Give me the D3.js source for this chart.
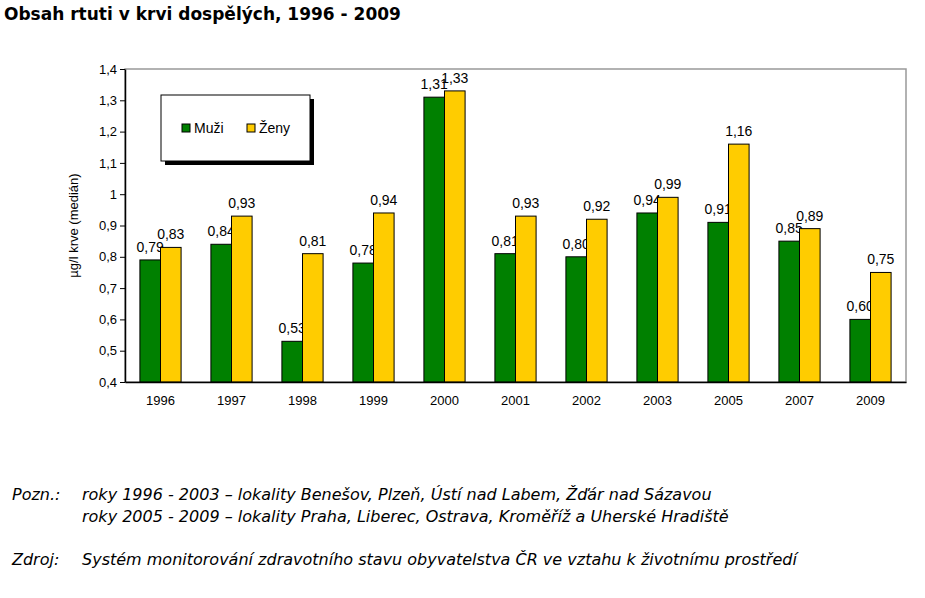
<!DOCTYPE html>
<html><head><meta charset="utf-8">
<script src="https://cdn.jsdelivr.net/npm/d3@7"></script>
<style>body{margin:0;background:#fff}</style>
</head><body>
<svg id="c" width="925" height="598"></svg>
<script>
const years = ['1996','1997','1998','1999','2000','2001','2002','2003','2005','2007','2009'];
const muzi = [0.79,0.84,0.53,0.78,1.31,0.81,0.80,0.94,0.91,0.85,0.60];
const zeny = [0.83,0.93,0.81,0.94,1.33,0.93,0.92,0.99,1.16,0.89,0.75];
const yTicks = [0.4,0.5,0.6,0.7,0.8,0.9,1.0,1.1,1.2,1.3,1.4];

const svg = d3.select('#c');
const fmt = d => d3.format('.2f')(d).replace('.', ',');
const fmtT = d => (d === 1 ? '1' : d3.format('.1f')(d).replace('.', ','));

svg.append('text').attr('x', 4).attr('y', 20)
  .style('font', 'bold 17px Verdana, "DejaVu Sans", sans-serif').text('Obsah rtuti v krvi dospělých, 1996 - 2009');

const pL = 125, pR = 906, pT = 69, pB = 382;
const x = d3.scaleBand().domain(years).range([pL, pR]).paddingInner(0.42).paddingOuter(0.21);
const y = d3.scaleLinear().domain([0.4, 1.4]).range([pB, pT]);

// plot frame
svg.append('rect').attr('x', pL).attr('y', pT).attr('width', pR - pL).attr('height', pB - pT)
  .attr('fill', '#fff').attr('stroke', '#999').attr('stroke-width', 1.5);

const bw = x.bandwidth() / 2;
const g = svg.append('g');
years.forEach((yr, i) => {
  [[muzi[i], '#008000', 0], [zeny[i], '#ffcc00', 1]].forEach(([v, c, k]) => {
    g.append('rect').attr('x', x(yr) + k * bw).attr('y', y(v)).attr('width', bw).attr('height', y(0.4) - y(v))
      .attr('fill', c).attr('stroke', '#000').attr('stroke-width', 1);
    g.append('text').attr('x', x(yr) + k * bw + bw / 2).attr('y', y(v) - 8).attr('text-anchor', 'middle')
      .style('font', '14px Arial, "Liberation Sans", sans-serif').text(fmt(v));
  });
});

svg.append('g').attr('transform', `translate(${pL},0)`)
  .call(d3.axisLeft(y).tickValues(yTicks).tickFormat(fmtT).tickSize(5).tickSizeOuter(0))
  .call(a => a.selectAll('text').style('font', '13px Arial, "Liberation Sans", sans-serif').attr('fill', '#000'))
  .call(a => a.select('.domain').attr('stroke', '#000').attr('stroke-width', 1.5));

svg.append('g').attr('transform', `translate(0,${pB})`)
  .call(d3.axisBottom(x).tickSize(0).tickPadding(14))
  .call(a => a.selectAll('text').style('font', '13px Arial, "Liberation Sans", sans-serif').attr('fill', '#000'))
  .call(a => a.select('.domain').attr('stroke', '#000').attr('stroke-width', 1.5));

svg.append('text').attr('transform', `translate(78,${(pT + pB) / 2}) rotate(-90)`).attr('text-anchor', 'middle')
  .style('font', '13px Arial, "Liberation Sans", sans-serif').text('µg/l krve (medián)');

// legend
svg.append('rect').attr('x', 165).attr('y', 99).attr('width', 149).attr('height', 66).attr('fill', '#000');
svg.append('rect').attr('x', 161).attr('y', 95).attr('width', 149).attr('height', 66).attr('fill', '#fff').attr('stroke', '#000');
[['Muži', '#008000', 182], ['Ženy', '#ffcc00', 247]].forEach(([t, c, lx]) => {
  svg.append('rect').attr('x', lx).attr('y', 124).attr('width', 8).attr('height', 8).attr('fill', c).attr('stroke', '#000');
  svg.append('text').attr('x', lx + 12).attr('y', 133).style('font', '14px Arial, "Liberation Sans", sans-serif').text(t);
});

const ital = 'italic 16px Verdana, "DejaVu Sans", sans-serif';
svg.append('text').attr('x', 12).attr('y', 500).style('font', ital).text('Pozn.:');
svg.append('text').attr('x', 82).attr('y', 500).style('font', ital).text('roky 1996 - 2003  – lokality Benešov, Plzeň, Ústí nad Labem, Žďár nad Sázavou');
svg.append('text').attr('x', 82).attr('y', 522).style('font', ital).text('roky 2005 - 2009 – lokality Praha, Liberec, Ostrava, Kroměříž a Uherské Hradiště');
svg.append('text').attr('x', 12).attr('y', 565).style('font', ital).text('Zdroj:');
svg.append('text').attr('x', 82).attr('y', 565).style('font', ital).text('Systém monitorování zdravotního stavu obyvatelstva ČR ve vztahu k životnímu prostředí');
</script>
</body></html>
